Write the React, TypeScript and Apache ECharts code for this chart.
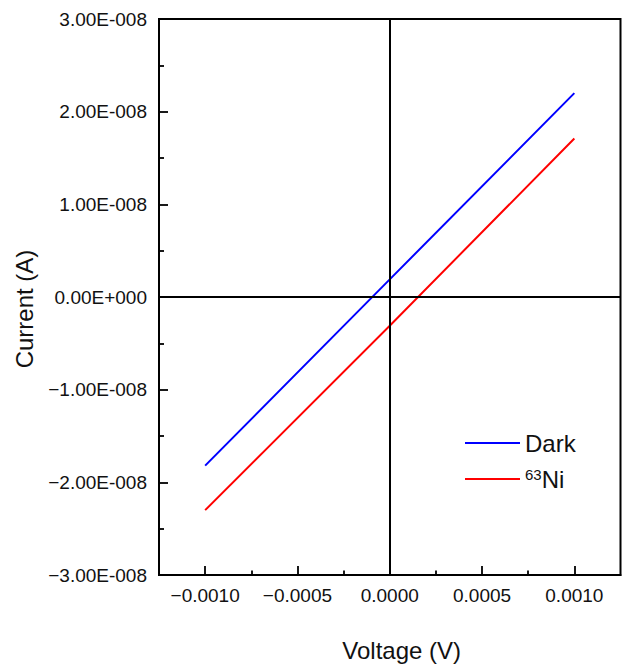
import React, { useEffect, useRef } from "react";
import * as echarts from "echarts";

const voltage = [-0.001, 0, 0.001];
const darkCurrent = [-1.82e-8, 0.19e-8, 2.2e-8];
const niCurrent = [-2.3e-8, -0.31e-8, 1.71e-8];
const xMajorTicks = [-0.001, -0.0005, 0, 0.0005, 0.001];
const xMinorTicks = [-0.00075, -0.00025, 0.00025, 0.00075];
const seriesNames = ["Dark", "63Ni"];

const FONT = "Liberation Sans, Arial, Helvetica, sans-serif";

function fmtY(v: number): string {
  if (Math.abs(v) < 1e-20) return "0.00E+000";
  const a = Math.abs(v);
  let exp = Math.floor(Math.log10(a) + 1e-9);
  let mant = a / Math.pow(10, exp);
  if (mant >= 9.995) {
    mant /= 10;
    exp += 1;
  }
  const es = (exp < 0 ? "-" : "+") + String(Math.abs(exp)).padStart(3, "0");
  return (v < 0 ? "\u2212" : "") + mant.toFixed(2) + "E" + es;
}

function fmtX(v: number): string {
  if (Math.abs(v) < 1e-12) return "0.0000";
  return (v < 0 ? "\u2212" : "") + Math.abs(v).toFixed(4);
}

export default function App() {
  const ref = useRef<HTMLDivElement>(null);
  useEffect(() => {
    if (!ref.current) return;
    const chart = echarts.init(ref.current, undefined, { renderer: "svg" });
    const axisColor = "#000";
    const textColor = "#111";
    chart.setOption({
      animation: false,
      backgroundColor: "#fff",
      grid: {
        left: 159,
        right: 1.5,
        top: 19,
        bottom: 89,
        show: true,
        borderColor: "#000",
        borderWidth: 2,
        backgroundColor: "transparent",
      },
      xAxis: [
        {
          type: "value",
          min: -0.00125,
          max: 0.00125,
          position: "bottom",
          axisLine: { show: true, onZero: false, lineStyle: { color: axisColor, width: 2 } },
          axisTick: {
            show: true,
            inside: true,
            length: 9,
            customValues: xMajorTicks,
            lineStyle: { color: axisColor, width: 1.8 },
          },
          axisLabel: {
            customValues: xMajorTicks,
            formatter: fmtX,
            margin: 11,
            color: textColor,
            fontSize: 19,
            fontFamily: FONT,
          },
          splitLine: { show: false },
        },
        {
          type: "value",
          min: -0.00125,
          max: 0.00125,
          position: "bottom",
          axisLine: { show: false, onZero: false },
          axisTick: {
            show: true,
            inside: true,
            length: 4.5,
            customValues: xMinorTicks,
            lineStyle: { color: axisColor, width: 1.8 },
          },
          axisLabel: { show: false },
          splitLine: { show: false },
        },
      ],
      yAxis: {
        type: "value",
        min: -3e-8,
        max: 3e-8,
        interval: 1e-8,
        axisLine: { show: true, onZero: false, lineStyle: { color: axisColor, width: 2 } },
        axisTick: { show: true, inside: true, length: 9, lineStyle: { color: axisColor, width: 1.8 } },
        minorTick: { show: true, splitNumber: 2, length: 5, lineStyle: { color: axisColor, width: 1.8 } },
        axisLabel: {
          formatter: fmtY,
          margin: 12,
          color: textColor,
          fontSize: 19,
          fontFamily: FONT,
        },
        splitLine: { show: false },
      },
      legend: [
        {
          data: [seriesNames[0]],
          orient: "vertical",
          left: 460,
          top: 426,
          itemWidth: 55,
          itemHeight: 2,
          itemGap: 5,
          icon: "rect",
          textStyle: { fontSize: 24, color: textColor, fontFamily: FONT },
        },
        {
          data: [seriesNames[1]],
          orient: "vertical",
          left: 460,
          top: 457,
          itemWidth: 55,
          itemHeight: 2,
          itemGap: 5,
          icon: "rect",
          formatter: () => "{sup|63}{n|Ni}",
          textStyle: {
            fontSize: 24,
            color: textColor,
            fontFamily: FONT,
            rich: {
              sup: { fontSize: 15, lineHeight: 15, verticalAlign: "top", color: textColor, fontFamily: FONT },
              n: {
                fontSize: 24,
                lineHeight: 24,
                verticalAlign: "bottom",
                padding: [5, 0, 0, 0],
                color: textColor,
                fontFamily: FONT,
              },
            },
          },
        },
      ],
      graphic: [
        {
          type: "text",
          x: 401.7,
          y: 650,
          style: {
            text: "Voltage (V)",
            fontSize: 24,
            fontFamily: FONT,
            fill: textColor,
            align: "center",
            verticalAlign: "middle",
          },
        },
        {
          type: "text",
          x: 24,
          y: 309,
          rotation: Math.PI / 2,
          style: {
            text: "Current (A)",
            fontSize: 24,
            fontFamily: FONT,
            fill: textColor,
            align: "center",
            verticalAlign: "middle",
          },
        },
      ],
      series: [
        {
          name: seriesNames[0],
          type: "line",
          xAxisIndex: 0,
          data: voltage.map((v, i) => [v, darkCurrent[i]]),
          showSymbol: false,
          symbol: "none",
          lineStyle: { color: "#0000ff", width: 2 },
          itemStyle: { color: "#0000ff" },
          markLine: {
            silent: true,
            symbol: "none",
            label: { show: false },
            lineStyle: { color: "#000", width: 2, type: "solid" },
            data: [{ xAxis: 0 }, { yAxis: 0 }],
          },
        },
        {
          name: seriesNames[1],
          type: "line",
          xAxisIndex: 0,
          data: voltage.map((v, i) => [v, niCurrent[i]]),
          showSymbol: false,
          symbol: "none",
          lineStyle: { color: "#ff0000", width: 2 },
          itemStyle: { color: "#ff0000" },
        },
      ],
    });
    return () => chart.dispose();
  }, []);
  return (
    <div
      ref={ref}
      style={{ position: "fixed", left: 0, top: 0, width: 622, height: 664, background: "#fff" }}
    />
  );
}
